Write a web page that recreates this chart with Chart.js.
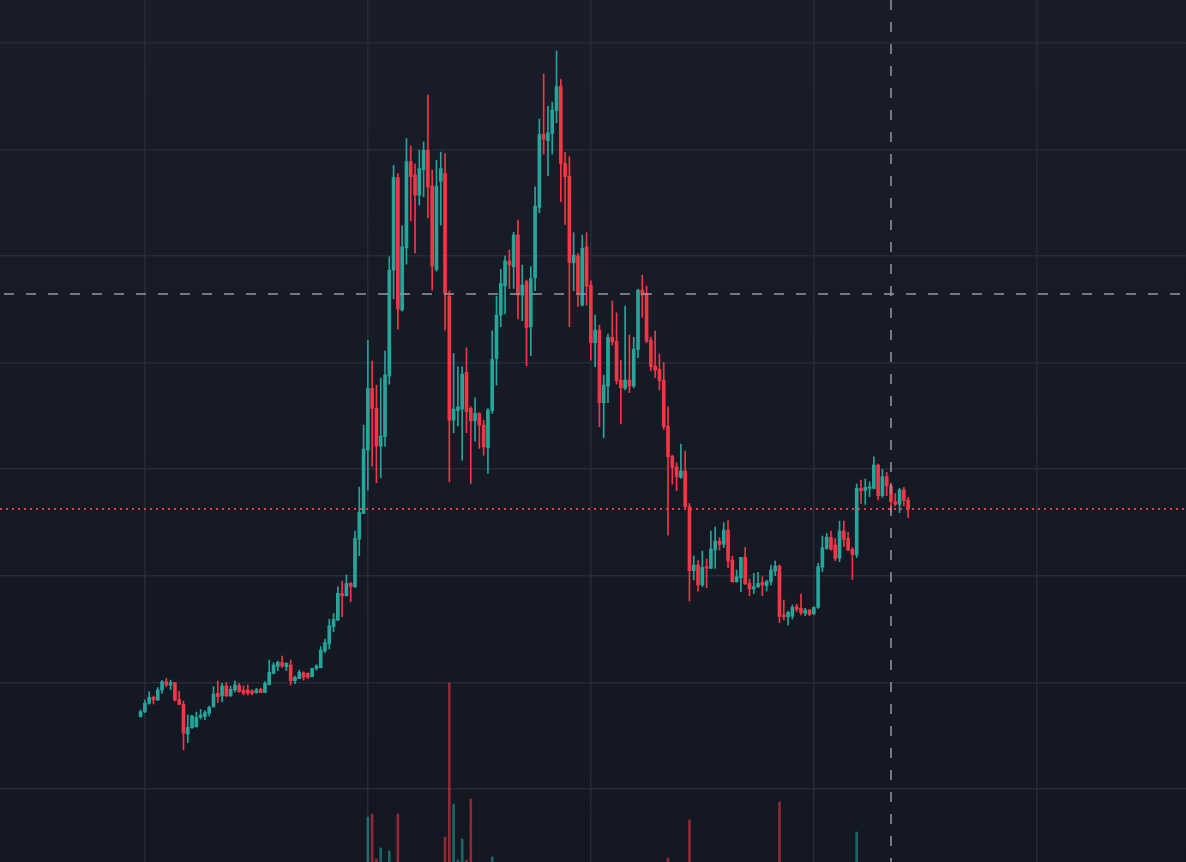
<!DOCTYPE html>
<html>
<head>
<meta charset="utf-8">
<title>BTC weekly</title>
<script src="https://cdn.jsdelivr.net/npm/chart.js@4.4.1/dist/chart.umd.min.js"></script>
<style>
  html, body { margin: 0; padding: 0; background: #161a25; }
  #wrap { position: relative; width: 1186px; height: 862px; }
</style>
</head>
<body>
<div id="wrap"><canvas id="candles"></canvas></div>
<script>
// weekly candles, prices in thousands
const opens = [
  6.8, 7.26, 8.04, 8.6, 8.35, 9.29, 10.07, 9.76, 9.98, 8.41,
  7.94, 5.16, 5.75, 5.85, 6.72, 6.8, 7.1, 7.7, 8.97, 8.72,
  9.66, 8.72, 9.3, 9.7, 9.29, 9.29, 9.2, 9.04, 9.35, 9.04,
  9.8, 10.85, 11.5, 11.88, 11.47, 11.63, 10.16, 10.35, 10.9, 10.85,
  10.53, 11.3, 11.37, 12.97, 13.65, 15.22, 15.85, 18.35, 18.13, 19.28,
  18.97, 23.45, 25.85, 31.8, 37.58, 35.7, 32.17, 33.05, 38.74, 48.68,
  57.37, 44.93, 50.77, 58.84, 57.6, 55.71, 58.1, 59.93, 56.56, 48.74,
  57.0, 57.74, 46.24, 34.6, 35.5, 35.64, 39.08, 35.7, 34.54, 35.23,
  34.14, 32.04, 35.5, 40.39, 44.46, 47.2, 49.53, 49.0, 51.97, 46.34,
  47.6, 43.36, 47.96, 54.56, 61.41, 60.82, 61.5, 63.63, 65.94, 58.69,
  57.5, 49.37, 50.0, 45.4, 50.87, 47.27, 41.87, 43.05, 36.24, 37.8,
  42.37, 42.0, 38.36, 37.6, 38.36, 37.8, 41.24, 46.8, 46.5, 42.1,
  39.68, 39.36, 38.36, 34.05, 31.23, 30.23, 29.23, 29.83, 26.48, 20.48,
  21.01, 19.14, 20.86, 20.7, 22.42, 23.26, 22.95, 24.29, 21.48, 19.45,
  19.82, 21.73, 19.29, 18.76, 18.98, 19.39, 19.07, 19.45, 20.45, 20.92,
  16.32, 16.16, 16.2, 17.1, 16.95, 16.48, 16.79, 16.42, 17.04, 20.8,
  22.58, 23.61, 22.89, 21.64, 24.2, 23.51, 22.48, 21.95, 28.2, 27.99,
  28.2, 28.2, 30.39, 27.52, 29.3, 28.42, 26.95, 26.7, 28.05, 27.11
];
const highs = [
  7.41, 8.35, 9.13, 8.72, 9.51, 10.16, 10.38, 10.22, 10.0, 9.16,
  8.25, 6.94, 6.91, 7.22, 7.47, 7.35, 7.78, 9.6, 10.13, 9.91,
  9.98, 9.66, 10.13, 9.91, 9.66, 9.76, 9.3, 9.45, 9.45, 10.07,
  12.1, 11.85, 12.0, 12.48, 11.85, 12.1, 10.6, 11.16, 11.0, 10.9,
  11.35, 11.66, 13.35, 14.06, 15.94, 16.47, 18.97, 19.5, 20.07, 19.38,
  24.2, 28.32, 34.14, 42.1, 40.14, 37.89, 38.55, 41.08, 49.93, 58.5,
  57.74, 52.84, 61.03, 60.31, 58.62, 59.93, 60.7, 65.09, 58.06, 58.99,
  59.75, 59.62, 46.74, 40.86, 39.61, 39.61, 41.39, 35.86, 36.7, 35.3,
  34.6, 35.7, 42.98, 46.24, 48.75, 50.0, 50.56, 52.22, 53.37, 49.15,
  47.75, 49.0, 56.5, 62.85, 67.07, 64.07, 64.44, 69.23, 66.57, 59.72,
  59.32, 52.19, 50.25, 51.97, 52.19, 47.68, 44.46, 43.52, 38.83, 42.68,
  45.77, 44.68, 40.24, 45.3, 42.58, 42.37, 46.9, 48.21, 47.18, 42.37,
  42.96, 40.8, 39.99, 35.86, 31.3, 30.61, 32.36, 31.7, 26.79, 21.86,
  21.48, 22.32, 21.57, 24.2, 24.58, 23.58, 24.98, 25.17, 21.86, 20.54,
  21.73, 22.67, 19.7, 20.23, 20.32, 19.92, 19.6, 21.01, 21.39, 21.01,
  17.73, 16.7, 17.26, 17.35, 18.29, 16.95, 16.85, 17.1, 21.17, 23.73,
  23.98, 24.2, 23.51, 25.14, 25.14, 24.08, 22.64, 28.61, 28.99, 29.08,
  28.83, 31.17, 30.49, 29.99, 29.7, 28.67, 27.73, 28.2, 28.3, 27.36
];
const lows = [
  6.75, 7.16, 7.95, 7.97, 8.3, 8.97, 9.6, 9.32, 8.25, 7.9,
  3.66, 4.35, 5.69, 5.8, 6.56, 6.5, 6.85, 7.7, 8.1, 8.19,
  8.7, 8.7, 9.1, 9.07, 8.82, 8.82, 8.82, 8.97, 9.04, 9.04,
  9.75, 10.8, 11.1, 11.41, 11.1, 9.76, 9.88, 10.35, 10.22, 10.38,
  10.53, 11.13, 11.37, 12.78, 13.12, 14.75, 15.78, 16.16, 18.1, 17.57,
  18.9, 21.88, 25.85, 28.04, 30.29, 28.73, 29.2, 32.17, 37.98, 46.0,
  43.14, 44.83, 49.24, 53.3, 50.3, 54.77, 55.56, 53.59, 46.8, 48.58,
  52.9, 43.05, 28.82, 33.42, 34.07, 30.85, 33.42, 28.66, 32.63, 31.95,
  31.32, 29.6, 35.23, 37.89, 43.37, 44.56, 46.96, 46.96, 44.09, 43.93,
  39.71, 40.65, 46.74, 54.06, 59.57, 57.53, 59.57, 62.5, 55.09, 52.97,
  43.37, 46.74, 45.24, 45.3, 45.4, 40.24, 39.61, 33.99, 32.95, 36.24,
  41.65, 37.99, 34.24, 37.43, 37.18, 37.64, 40.46, 44.24, 41.87, 39.24,
  38.58, 37.43, 33.74, 23.82, 28.6, 27.98, 29.14, 26.33, 17.63, 19.6,
  18.57, 18.98, 18.88, 20.7, 20.7, 22.42, 22.64, 20.76, 19.39, 19.39,
  18.51, 19.2, 18.13, 18.35, 18.88, 18.13, 18.57, 19.14, 20.01, 15.6,
  15.85, 15.38, 15.95, 16.63, 16.32, 16.26, 16.26, 16.4, 16.95, 20.39,
  22.48, 22.4, 21.42, 21.32, 22.73, 22.36, 19.67, 21.7, 26.8, 26.7,
  27.42, 28.14, 27.11, 27.36, 27.52, 26.01, 26.55, 25.92, 26.55, 25.45
];
const closes = [
  7.26, 8.04, 8.6, 8.35, 9.29, 10.07, 9.76, 9.98, 8.35, 7.94,
  5.22, 5.79, 6.85, 6.72, 6.94, 7.16, 7.66, 8.91, 8.66, 9.66,
  8.72, 9.35, 9.76, 9.13, 8.97, 8.97, 8.97, 9.29, 9.04, 9.91,
  10.95, 11.63, 11.88, 11.54, 11.79, 10.16, 10.48, 10.95, 10.48, 10.48,
  11.31, 11.54, 13.03, 13.72, 15.31, 15.91, 18.35, 18.13, 19.28, 19.03,
  23.5, 25.95, 31.89, 37.58, 35.7, 32.17, 33.11, 38.83, 48.68, 57.37,
  45.02, 50.87, 58.84, 57.43, 55.71, 58.21, 59.93, 56.49, 49.05, 56.56,
  58.21, 46.49, 34.6, 35.64, 35.85, 38.92, 35.39, 34.54, 35.23, 34.14,
  32.1, 35.54, 40.3, 44.46, 47.43, 49.53, 49.15, 51.97, 46.34, 47.28,
  43.3, 47.9, 54.69, 61.41, 60.97, 61.57, 63.69, 65.88, 58.69, 57.44,
  49.37, 50.09, 46.5, 50.72, 47.18, 41.87, 43.05, 36.24, 37.9, 42.37,
  41.96, 38.3, 37.64, 38.36, 37.8, 41.27, 46.8, 46.34, 42.02, 39.61,
  39.3, 38.3, 33.99, 31.17, 30.17, 29.3, 29.83, 26.48, 20.48, 21.01,
  19.14, 20.79, 20.7, 22.51, 23.26, 22.95, 24.29, 21.39, 19.45, 19.92,
  21.73, 19.23, 18.76, 18.98, 19.29, 19.14, 19.45, 20.54, 20.92, 16.16,
  16.16, 16.57, 17.04, 16.85, 16.54, 16.79, 16.38, 17.04, 20.86, 22.64,
  23.61, 22.48, 21.64, 24.2, 23.42, 22.42, 22.01, 28.2, 27.99, 28.3,
  28.36, 30.39, 27.52, 29.3, 28.42, 26.95, 26.73, 28.05, 27.05, 26.27
];
// only the volume bars tall enough to show in the frame
const volumes = {
  53: 382, 54: 396, 55: 189, 56: 240, 58: 226, 60: 396,
  71: 290, 72: 1000, 73: 442, 74: 184, 75: 281, 76: 184, 77: 465,
  82: 198, 123: 194, 128: 369, 149: 452, 167: 313
};

const yearTicks = [1, 53, 105, 157, 209];
const yearLabels = ["2020", "2021", "2022", "2023", "2024"];
const priceTicks = [0, 10, 20, 30, 40, 50, 60, 70];

const crosshairIndex = 175;
const crosshairPrice = 46.43;

const upColor = "#26a69a";
const downColor = "#f23645";
const upVolColor = "rgba(38,166,154,0.55)";
const downVolColor = "rgba(242,54,69,0.55)";

const isUp = (i) => closes[i] >= opens[i];

const bodyData = opens.map((o, i) => ({ x: i, y: [o, closes[i]] }));
const wickData = opens.map((o, i) => ({ x: i, y: [lows[i], highs[i]] }));
const barColors = opens.map((o, i) => (isUp(i) ? upColor : downColor));
const volumeData = Object.keys(volumes).map((k) => ({ x: Number(k), y: volumes[k] }));
const volumeColors = volumeData.map((p) => (isUp(p.x) ? upVolColor : downVolColor));

const backgroundPlugin = {
  id: "background",
  beforeDraw(chart) {
    const { ctx, width, height } = chart;
    const grad = ctx.createLinearGradient(0, 0, 0, height);
    grad.addColorStop(0, "#191d29");
    grad.addColorStop(1, "#131722");
    ctx.save();
    ctx.fillStyle = grad;
    ctx.fillRect(0, 0, width, height);
    ctx.restore();
  }
};

const overlayPlugin = {
  id: "overlay",
  afterDatasetsDraw(chart) {
    const { ctx, chartArea, scales } = chart;
    const lastY = scales.y.getPixelForValue(closes[closes.length - 1]);
    const crossX = scales.x.getPixelForValue(crosshairIndex);
    const crossY = scales.y.getPixelForValue(crosshairPrice);
    ctx.save();

    // last price line
    ctx.strokeStyle = downColor;
    ctx.lineWidth = 2;
    ctx.setLineDash([2, 4]);
    ctx.beginPath();
    ctx.moveTo(chartArea.left, lastY);
    ctx.lineTo(chartArea.right, lastY);
    ctx.stroke();

    // crosshair
    ctx.strokeStyle = "#9598a1";
    ctx.lineWidth = 1.5;
    ctx.setLineDash([10, 12]);
    ctx.beginPath();
    ctx.moveTo(chartArea.left + 4, crossY);
    ctx.lineTo(chartArea.right, crossY);
    ctx.moveTo(crossX, chartArea.top);
    ctx.lineTo(crossX, chartArea.bottom);
    ctx.stroke();
    ctx.restore();
  }
};

const gridStyle = { color: "#272b37", lineWidth: 1.5, drawTicks: false, offset: false };

new Chart(document.getElementById("candles"), {
  type: "bar",
  data: {
    datasets: [
      {
        label: "body",
        data: bodyData,
        backgroundColor: barColors,
        barThickness: 3,
        minBarLength: 1,
        grouped: false,
        order: 0
      },
      {
        label: "wick",
        data: wickData,
        backgroundColor: barColors,
        barThickness: 1,
        grouped: false,
        order: 1
      },
      {
        label: "volume",
        data: volumeData,
        backgroundColor: volumeColors,
        barThickness: 2,
        grouped: false,
        yAxisID: "vol",
        order: 2
      }
    ]
  },
  options: {
    responsive: true,
    maintainAspectRatio: false,
    animation: false,
    layout: { padding: 0 },
    plugins: { legend: { display: false }, tooltip: { enabled: false } },
    scales: {
      x: {
        type: "linear",
        offset: false,
        min: -32.79,
        max: 243.8,
        afterBuildTicks: (scale) => {
          scale.ticks = yearTicks.map((v) => ({ value: v }));
        },
        ticks: {
          display: false,
          callback: (v) => yearLabels[yearTicks.indexOf(v)]
        },
        grid: gridStyle,
        border: { display: false }
      },
      y: {
        position: "right",
        min: -6.85,
        max: 74.02,
        afterBuildTicks: (scale) => {
          scale.ticks = priceTicks.map((v) => ({ value: v }));
        },
        ticks: { display: false },
        grid: gridStyle,
        border: { display: false }
      },
      vol: {
        display: false,
        min: 175,
        max: 4147
      }
    }
  },
  plugins: [backgroundPlugin, overlayPlugin]
});
</script>
</body>
</html>
